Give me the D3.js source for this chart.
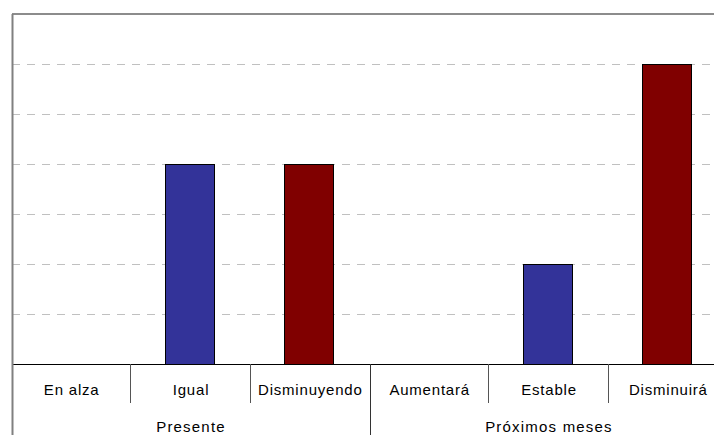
<!DOCTYPE html>
<html>
<head>
<meta charset="utf-8">
<script src="https://cdn.jsdelivr.net/npm/d3@7"></script>
<style>
html,body{margin:0;padding:0;background:#fff;}
svg{display:block;}
text{font-family:"Liberation Sans",Arial,sans-serif;font-size:15px;fill:#000;}
</style>
</head>
<body>
<svg id="chart" width="714" height="435"></svg>
<script>
const groups = ["Presente", "Próximos meses"];
const categories = ["En alza", "Igual", "Disminuyendo", "Aumentará", "Estable", "Disminuirá"];
const groupOf = ["Presente", "Presente", "Presente", "Próximos meses", "Próximos meses", "Próximos meses"];
const values = [0, 4, 4, 0, 2, 6];
const barColors = ["#9999FF", "#333399", "#800000", "#9999FF", "#333399", "#800000"];
const yTicks = [1, 2, 3, 4, 5, 6];
const yMax = 7;

(function () {
const svg = d3.select("#chart");
const pLeft = 12, pRight = 728, pTop = 14, base = 364;

const x = d3.scaleBand().domain(categories).range([pLeft, pRight]).padding(0);
const gx = d3.scaleBand().domain(groups).range([pLeft, pRight]).padding(0);
const y = d3.scaleLinear().domain([0, yMax]).range([base, pTop]);

// gridlines
svg.append("g").selectAll("line").data(yTicks).join("line")
  .attr("x1", pLeft).attr("x2", pRight)
  .attr("y1", d => Math.round(y(d)) + 0.5).attr("y2", d => Math.round(y(d)) + 0.5)
  .attr("stroke", "#c0c0c0").attr("stroke-width", 1)
  .attr("stroke-dasharray", "8,7");

// top frame
svg.append("line").attr("x1", pLeft).attr("x2", pRight)
  .attr("y1", y(yMax)).attr("y2", y(yMax))
  .attr("stroke", "#8c8c8c").attr("stroke-width", 2);

// bars
const bw = x.bandwidth() * 0.41;
svg.append("g").selectAll("rect").data(categories).join("rect")
  .attr("x", (c) => Math.floor(x(c) + (x.bandwidth() - bw) / 2) - 0.5)
  .attr("width", Math.round(bw))
  .attr("y", (c, i) => Math.round(y(values[i])) + 0.5)
  .attr("height", (c, i) => Math.round(base - y(values[i])))
  .attr("fill", (c, i) => barColors[i])
  .attr("stroke", "#000").attr("stroke-width", 1)
  .style("display", (c, i) => values[i] > 0 ? null : "none");

// baseline
svg.append("line").attr("x1", pLeft).attr("x2", pRight)
  .attr("y1", base + 0.5).attr("y2", base + 0.5)
  .attr("stroke", "#000").attr("stroke-width", 1);

// category dividers
const inner = categories.slice(1).filter((c, i) => groupOf[i + 1] === groupOf[i]);
svg.append("g").selectAll("line").data(inner).join("line")
  .attr("x1", c => Math.round(x(c)) - 0.5).attr("x2", c => Math.round(x(c)) - 0.5)
  .attr("y1", base).attr("y2", base + 39)
  .attr("stroke", "#555").attr("stroke-width", 1);

// group dividers
const gEdges = groups.map(g => gx(g)).concat([pRight]);
svg.append("g").selectAll("line").data(gEdges).join("line")
  .attr("x1", d => Math.round(d) + 0.5).attr("x2", d => Math.round(d) + 0.5)
  .attr("y1", (d, i) => i === 0 ? pTop : base).attr("y2", 435)
  .attr("stroke", (d, i) => i === 0 ? "#808080" : "#333").attr("stroke-width", (d, i) => i === 0 ? 2 : 1);

// category labels
svg.append("g").selectAll("text").data(categories).join("text")
  .attr("x", c => x(c) + x.bandwidth() / 2)
  .attr("y", base + 31)
  .attr("text-anchor", "middle")
  .style("letter-spacing", "0.8px")
  .text(c => c);

// group labels
svg.append("g").selectAll("text").data(groups).join("text")
  .attr("x", g => gx(g) + gx.bandwidth() / 2)
  .attr("y", base + 68)
  .attr("text-anchor", "middle")
  .style("letter-spacing", "1.2px")
  .text(g => g);
})();
</script>
</body>
</html>
